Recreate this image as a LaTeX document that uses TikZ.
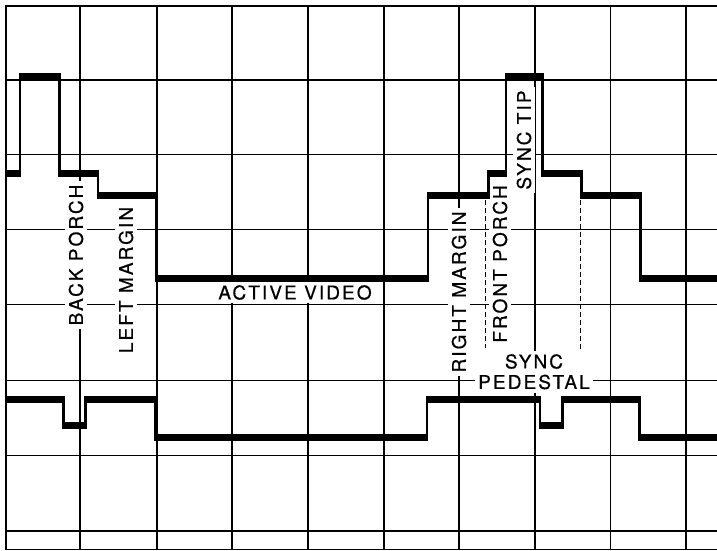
\documentclass[tikz,border=0pt]{standalone}
\usepackage{fontspec}
\newfontfamily\lblfont{TeX Gyre Heros}[LetterSpace=11,FakeBold=0.6]
\begin{document}
\begin{tikzpicture}[x=1pt,y=-1pt,
  grid/.style={line width=1.1pt,black},
  border/.style={line width=1.6pt,black},
  lbl/.style={font=\lblfont\fontsize{19}{21}\selectfont,fill=white,inner sep=3.5pt},
  vlbl/.style={lbl,rotate=90},
  edge/.style={line width=2.6pt,line join=miter},
  pdash/.style={line width=1pt,dash pattern=on 5pt off 3pt}]
\useasboundingbox (0,0) rectangle (717,551);
% grid
\foreach \x in {80,157,232,308,384,459,535,610.5,686}
  \draw[grid] (\x,6) -- (\x,549.5);
\foreach \y in {80,154.5,229.5,304.5,380.5,455.5,531}
  \draw[grid] (6,\y) -- (717,\y);
\draw[border] (717,6) -- (6,6) -- (6,549.5) -- (717,549.5);
% labels
\node[vlbl] (backporch) at (76,255) {BACK PORCH};
\node[vlbl] (leftmargin) at (126,280) {LEFT MARGIN};
\node[lbl] (active) at (295,292.5) {ACTIVE VIDEO};
\node[vlbl] (rightmargin) at (459,292) {RIGHT MARGIN};
\node[vlbl] (frontporch) at (500,264) {FRONT PORCH};
\node[vlbl] (synctip) at (524,140) {SYNC TIP};
\node[lbl] (sync) at (534,361.5) {SYNC};
\node[lbl] (pedestal) at (534,382) {PEDESTAL};
% dashed markers
\coordinate (d1a) at (485.5,200); \coordinate (d1b) at (485.5,348);
\coordinate (d2a) at (580,200); \coordinate (d2b) at (580,350);
\draw[pdash] (d1a) -- (d1b);
\draw[pdash] (d2a) -- (d2b);
% upper waveform
\draw[edge] (6,173.5) -- (20,173.5) -- (20,76.5) -- (59.5,76.5) -- (59.5,173.5)
  -- (98,173.5) -- (98,195.5) -- (156,195.5) -- (156,278) -- (428,278)
  -- (428,195.5) -- (488.5,195.5) -- (488.5,173.5) -- (506,173.5) -- (506,76.5)
  -- (542.5,76.5) -- (542.5,173.5) -- (581.5,173.5) -- (581.5,195.5)
  -- (640.5,195.5) -- (640.5,278) -- (717,278);
\foreach \a/\b/\l in {6/20/173.5, 20/59.5/76.5, 59.5/98/173.5, 98/156/195.5,
  156/428/278, 428/488.5/195.5, 488.5/506/173.5, 506/542.5/76.5,
  542.5/581.5/173.5, 581.5/640.5/195.5, 640.5/718.3/278}
  \fill ({\a-1.3},{\l-3.5}) rectangle ({\b+1.3},{\l+3.5});
% lower waveform
\draw[edge] (6,399.5) -- (63.5,399.5) -- (63.5,425) -- (85.5,425) -- (85.5,399.5)
  -- (155,399.5) -- (155,437) -- (427,437) -- (427,399.5) -- (540,399.5)
  -- (540,425) -- (562.5,425) -- (562.5,399.5) -- (639.5,399.5) -- (639.5,437)
  -- (717,437);
\foreach \a/\b/\l in {6/63.5/399.5, 63.5/85.5/425, 85.5/155/399.5, 155/427/437,
  427/540/399.5, 540/562.5/425, 562.5/639.5/399.5, 639.5/718.3/437}
  \fill ({\a-1.3},{\l-3.5}) rectangle ({\b+1.3},{\l+3.5});
\end{tikzpicture}
\end{document}
